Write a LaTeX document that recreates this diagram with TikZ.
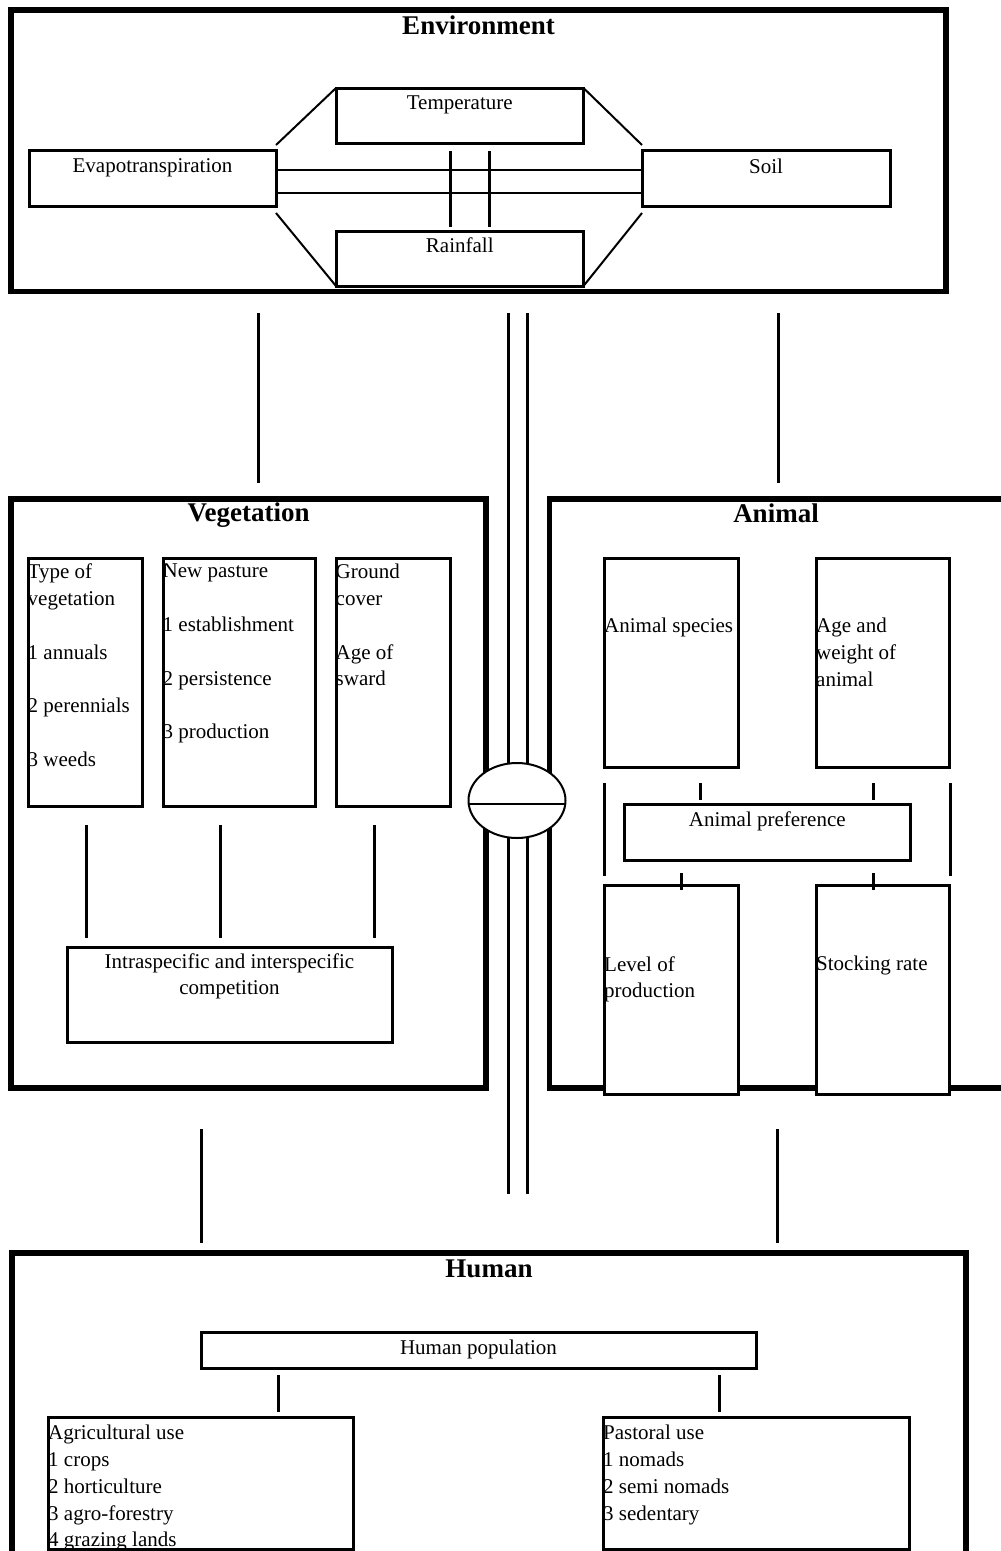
\documentclass[tikz,border=0pt]{standalone}
\usepackage{fontspec}
\setmainfont{Liberation Serif}
\usetikzlibrary{shapes.geometric,calc}
\newcommand{\txtfont}{\fontsize{21}{26.8}\selectfont}
\newcommand{\headfont}{\fontsize{27}{32}\selectfont\bfseries}

\tikzset{
  frame/.style={draw, line width=5.5pt, inner sep=0pt, outer sep=0pt},
  box/.style={draw, line width=3pt, inner sep=0pt, outer sep=0pt},
  link/.style={line width=3pt},
  thin link/.style={line width=2pt},
  head/.style={anchor=north, inner sep=0pt, font=\headfont},
  lbl/.style={anchor=north, inner sep=0pt, font=\txtfont, align=center},
  lbl left/.style={anchor=north west, inner sep=0pt, font=\txtfont, align=left},
}

\begin{document}
\begin{tikzpicture}[x=1pt, y=-1pt]
    \useasboundingbox (0,0) rectangle (1001,1551);
    \clip (0,0) rectangle (1001,1551);

    % frames
    \node[frame, minimum width=935pt, minimum height=281.5pt] at (478.5,150.75) (env) {};
    \node[frame, minimum width=475pt, minimum height=589pt] at (248.5,793.5) (veg) {};
    \node[frame, minimum width=456.5pt, minimum height=589pt] at (777.75,793.5) (animal) {};
    \node[frame, minimum width=954pt, minimum height=347pt] at (489,1426.5) (human) {};

    % links between the frames
    \draw[link] ($(veg.north)+(9.5,-186)$) -- ($(veg.north)+(9.5,-16)$);
    \draw[link] ($(animal.north)+(0.25,-186)$) -- ($(animal.north)+(0.25,-16)$);
    \draw[link] ($(veg.south)+(-47.5,41)$) -- ($(veg.south)+(-47.5,155)$);
    \draw[link] ($(animal.south)+(-0.25,41)$) -- ($(animal.south)+(-0.25,155)$);
    \foreach \dx in {30,49}
        \draw[link] ($(env.south)+(\dx,21.5)$) -- ($(env.south)+(\dx,902.5)$);
    \node[draw, ellipse, fill=white, line width=2pt, inner sep=0pt, outer sep=0pt,
          minimum width=97pt, minimum height=75pt] at (517,800.5) (hub) {};
    \draw[thin link] ($(hub.west)+(0,3)$) -- ($(hub.east)+(0,3)$);

    % environment
    \node[box, minimum width=247.5pt, minimum height=55pt] at (459.75,115.5) (temp) {};
    \node[box, minimum width=247pt, minimum height=56pt] at (152.5,178) (evap) {};
    \node[box, minimum width=248pt, minimum height=56pt] at (766,178) (soil) {};
    \node[box, minimum width=247.5pt, minimum height=55pt] at (459.75,258.5) (rain) {};

    \draw[thin link] ($(evap.north east)+(0,-5)$) -- (temp.north west);
    \draw[thin link] (temp.north east) -- ($(soil.north west)+(0,-5)$);
    \draw[thin link] ($(evap.south east)+(0,7)$) -- (rain.south west);
    \draw[thin link] (rain.south east) -- ($(soil.south west)+(0,7)$);
    \foreach \dy in {-8,15}
        \draw[thin link] ($(evap.east)+(0,\dy)$) -- ($(soil.west)+(0,\dy)$);
    \foreach \dx in {-9.5,29.5}
        \draw[link] ($(temp.south)+(\dx,8)$) -- ($(rain.north)+(\dx,-4)$);

    \node[head] at ($(env.north)+(0,6)$) {Environment};
    \node[lbl] at ($(temp.north)+(0,8)$) {Temperature};
    \node[lbl] at ($(evap.north)+(0,8.5)$) {Evapotranspiration};
    \node[lbl] at ($(soil.north)+(0,8.5)$) {Soil};
    \node[lbl] at ($(rain.north)+(0,7)$) {Rainfall};

    % vegetation
    \node[box, minimum width=114pt, minimum height=248pt] at (85,682) (type) {};
    \node[box, minimum width=152pt, minimum height=248pt] at (239,682) (pasture) {};
    \node[box, minimum width=114pt, minimum height=248pt] at (393,682) (ground) {};
    \node[box, minimum width=325pt, minimum height=95pt] at (229.5,994.5) (comp) {};
    \foreach \n/\dx in {type/1.5, pasture/-19, ground/-18.5}
        \draw[link] ($(\n.south)+(\dx,19)$) -- ($(\n.south)+(\dx,132)$);

    \node[head] at ($(veg.north)+(0,4)$) {Vegetation};
    \node[lbl left] at ($(type.north west)+(-0.5,6)$)
        {Type of\\vegetation\\[26.8pt]1 annuals\\[26.8pt]2 perennials\\[26.8pt]3 weeds};
    \node[lbl left] at ($(pasture.north west)+(-0.5,6)$)
        {New pasture\\[26.8pt]1 establishment\\[26.8pt]2 persistence\\[26.8pt]3 production};
    \node[lbl left] at ($(ground.north west)+(-0.5,6)$)
        {Ground\\cover\\[26.8pt]Age of\\sward};
    \node[lbl] at ($(comp.north)+(0,6)$) {Intraspecific and interspecific\\competition};

    % animal
    \node[box, minimum width=134pt, minimum height=209pt] at (671,662.5) (species) {};
    \node[box, minimum width=133pt, minimum height=209pt] at (882.5,662.5) (ageweight) {};
    \node[box, minimum width=286.5pt, minimum height=56pt] at (767.25,832) (pref) {};
    \node[box, fill=white, minimum width=134pt, minimum height=209pt] at (671,989.5) (level) {};
    \node[box, fill=white, minimum width=133pt, minimum height=209pt] at (882.5,989.5) (stocking) {};

    \draw[link] ($(species.south west)+(0,16)$) -- ($(species.south west)+(0,109)$);
    \draw[link] ($(ageweight.south east)+(1,16)$) -- ($(ageweight.south east)+(1,109)$);
    \draw[link] ($(species.south)+(29,16)$) -- ($(species.south)+(29,33)$);
    \draw[link] ($(ageweight.south)+(-9.5,16)$) -- ($(ageweight.south)+(-9.5,33)$);
    \draw[link] ($(level.north)+(10,-12)$) -- ($(level.north)+(10,5)$);
    \draw[link] ($(stocking.north)+(-9.5,-12)$) -- ($(stocking.north)+(-9.5,5)$);

    \node[head] at ($(animal.north)+(-1.75,5)$) {Animal};
    \node[lbl left] at ($(species.north west)+(0,60)$) {Animal species};
    \node[lbl left] at ($(ageweight.north west)+(0,60)$) {Age and\\weight of\\animal};
    \node[lbl] at ($(pref.north)+(0,8)$) {Animal preference};
    \node[lbl left] at ($(level.north west)+(0,71)$) {Level of\\production};
    \node[lbl left] at ($(stocking.north west)+(0,71)$) {Stocking rate};

    % human
    \node[box, minimum width=555pt, minimum height=36pt] at (478.5,1350) (pop) {};
    \node[box, minimum width=305pt, minimum height=132pt] at (200.5,1483) (agri) {};
    \node[box, minimum width=306pt, minimum height=132pt] at (756,1483) (pastoral) {};
    \foreach \dx in {-200.5,240.5}
        \draw[link] ($(pop.south)+(\dx,7)$) -- ($(pop.south)+(\dx,44)$);

    \node[head] at ($(human.north)+(0,7)$) {Human};
    \node[lbl] at ($(pop.north)+(0,8)$) {Human population};
    \node[lbl left] at ($(agri.north west)+(0,8)$)
        {Agricultural use\\1 crops\\2 horticulture\\3 agro-forestry\\4 grazing lands};
    \node[lbl left] at ($(pastoral.north west)+(0,8)$)
        {Pastoral use\\1 nomads\\2 semi nomads\\3 sedentary};
\end{tikzpicture}
\end{document}
